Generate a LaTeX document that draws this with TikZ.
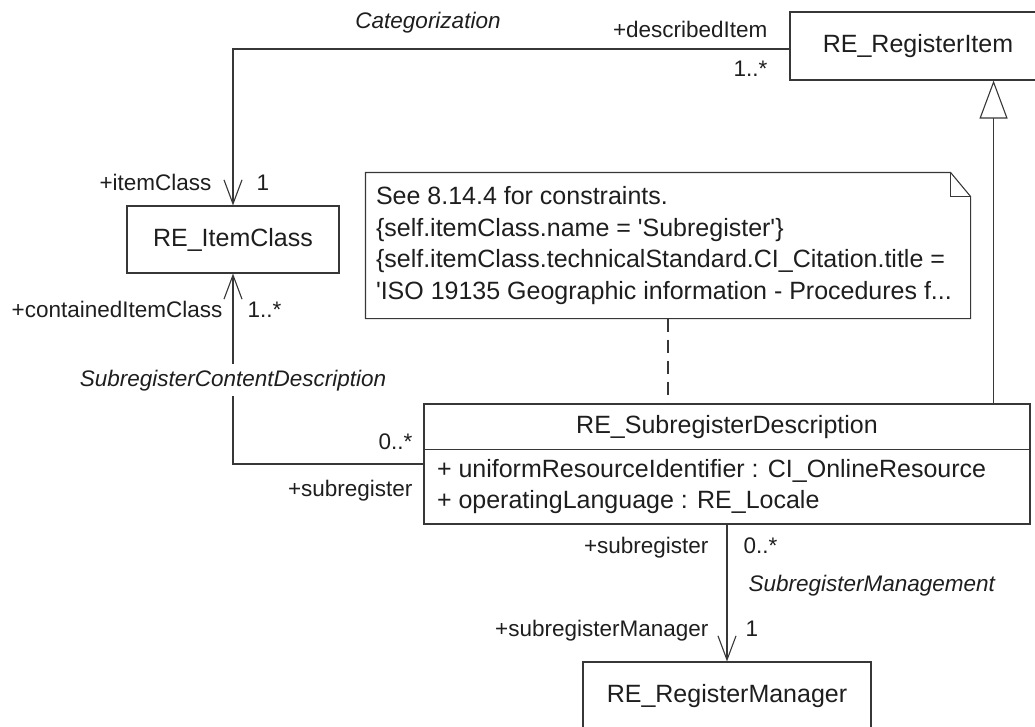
\documentclass[tikz,border=0pt]{standalone}
\usepackage{fontspec}
\setmainfont{Liberation Sans}
\usetikzlibrary{arrows.meta}
\definecolor{linegray}{RGB}{55,55,55}
\definecolor{textgray}{RGB}{30,30,30}

\begin{document}
\begin{tikzpicture}[x=1pt,y=-1pt,line width=1.1pt,text=textgray]

\tikzstyle{cls} = [rectangle, draw=linegray, inner sep=0pt, minimum height=68pt, text centered, font=\fontsize{25}{30}\selectfont]
\tikzstyle{attr} = [inner sep=0pt, text height=18pt, text depth=5pt, font=\fontsize{25}{30}\selectfont]
\tikzstyle{lbl} = [inner sep=0pt, text height=16pt, text depth=4pt, font=\fontsize{22.5}{27}\selectfont]
\tikzstyle{assocname} = [lbl, font=\fontsize{22.5}{27}\selectfont\itshape]
\tikzstyle{assoc} = [draw=linegray, -{Straight Barb[length=24pt,width=18pt]}]
\tikzstyle{gen} = [draw=linegray, -{Triangle[open,length=38pt,width=28pt]}]

\useasboundingbox (0,0) rectangle (1035,726);

% classes
\node (regitem) [cls, minimum width=256pt] at (918,46) {RE\_RegisterItem};
\node (itemclass) [cls, minimum width=212pt, minimum height=67pt] at (233,239.5) {RE\_ItemClass};
\node (regmgr) [cls, minimum width=288pt] at (727,696) {RE\_RegisterManager};
\node (subdesc) [cls, minimum width=606pt, minimum height=120pt] at (727,464) {};
\node (subname) [attr] at ([yshift=-24pt]subdesc.north) {RE\_SubregisterDescription};
\draw[linegray] ([yshift=-46pt]subdesc.north west) -- ([yshift=-46pt]subdesc.north east);
\node (uriattr) [attr, anchor=west] at ([xshift=13pt,yshift=-7pt]subdesc.west) {+ uniformResourceIdentifier : CI\_OnlineResource};
\node (langattr) [attr, anchor=west] at ([xshift=13pt,yshift=-38pt]subdesc.west) {+ operatingLanguage : RE\_Locale};

% note
\node (note) [minimum width=604pt, minimum height=145pt, inner sep=0pt] at (668,245.5) {};
\draw[linegray] (note.north west) -- ([xshift=-20pt]note.north east) -- ([yshift=-24pt]note.north east)
  -- (note.south east) -- (note.south west) -- cycle;
\draw[linegray] ([xshift=-20pt]note.north east) |- ([yshift=-24pt]note.north east);
\node (notetext) [anchor=west, align=left, inner sep=0pt, font=\fontsize{25}{31.5}\selectfont] at ([xshift=10pt]note.west)
  {See 8.14.4 for constraints.\\
   \{self.itemClass.name = \textquotesingle Subregister\textquotesingle\}\\
   \{self.itemClass.technicalStandard.CI\_Citation.title =\\
   \textquotesingle ISO 19135 Geographic information - Procedures f...};
\draw[linegray, dash pattern=on 13pt off 8pt] (note.south) -- (note.south |- subdesc.north);

% connectors
\draw[assoc] ([yshift=-3pt]regitem.west) -| (itemclass.north);
\draw[assoc] (subdesc.west) -| (itemclass.south);
\draw[assoc] (subdesc.south) -- (regmgr.north);
\draw[gen] ([xshift=-37pt]subdesc.north east) -- ([xshift=-37pt]subdesc.north east |- regitem.south);

% association labels
\node (catname) [assocname] at (428,22) {Categorization};
\node (descitem) [lbl, anchor=east] at (768,31) {+describedItem};
\node (descmult) [lbl, anchor=east] at (768,70) {1..*};
\node (icrole) [lbl, anchor=east] at (212,184) {+itemClass};
\node (icmult) [lbl, anchor=west] at (256,184) {1};
\node (cicrole) [lbl, anchor=east] at (223,311) {+containedItemClass};
\node (cicmult) [lbl, anchor=west] at (247,311) {1..*};
\node (cdname) [assocname, fill=white, inner ysep=6pt] at (233,380) {SubregisterContentDescription};
\node (sdmult) [lbl, anchor=east] at (413,443) {0..*};
\node (sdrole) [lbl, anchor=east] at (413,490) {+subregister};
\node (smrole) [lbl, anchor=east] at (709,547) {+subregister};
\node (smmult) [lbl, anchor=west] at (743,547) {0..*};
\node (smname) [assocname, anchor=west] at (748,585) {SubregisterManagement};
\node (mgrrole) [lbl, anchor=east] at (709,630) {+subregisterManager};
\node (mgrmult) [lbl, anchor=west] at (745,630) {1};

\end{tikzpicture}
\end{document}
